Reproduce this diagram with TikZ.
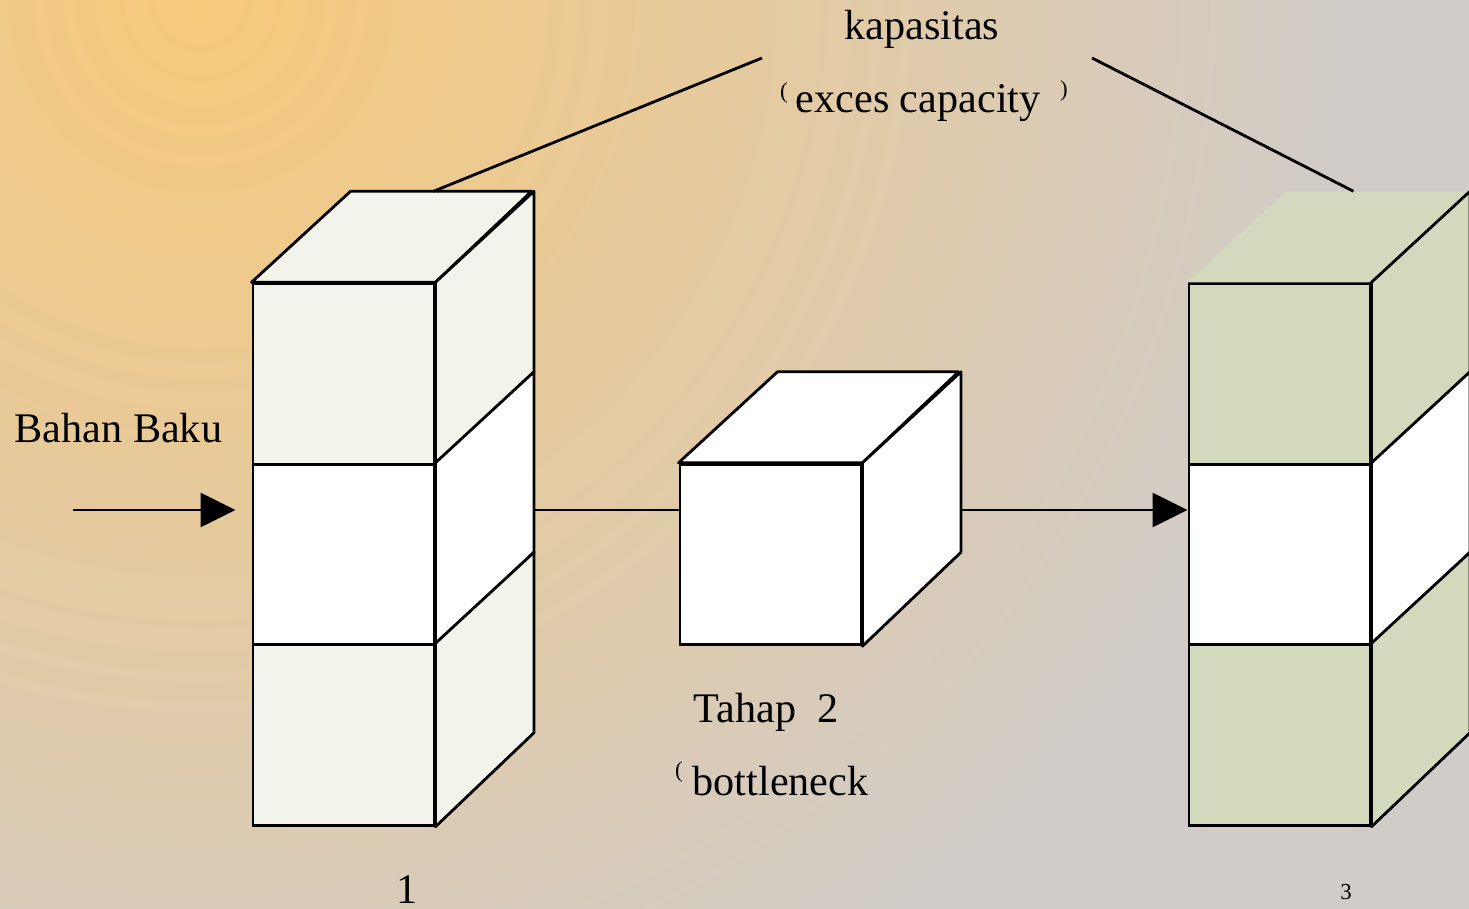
\documentclass[tikz,border=0pt]{standalone}
\usepackage{fontspec}
\setmainfont{Liberation Serif}
\usetikzlibrary{arrows.meta,calc,positioning}
\definecolor{cream}{HTML}{F2F3EA}
\definecolor{sage}{HTML}{D3D9BC}
\definecolor{bgwarm}{HTML}{F7C97A}
\definecolor{bggrey}{HTML}{D1CCC8}
\tikzset{>=latex}
\tikzstyle{cell} = [draw,line width=0.8pt,minimum width=1.81cm,minimum height=1.805cm,inner sep=0pt]
\tikzstyle{face} = [draw,line width=0.8pt,line join=round]
\tikzstyle{flow} = [line width=0.8pt,-{Triangle[length=3.5mm,width=3.4mm]}]
\tikzstyle{lbl} = [inner sep=0pt,font=\fontsize{12}{14}\selectfont]
\tikzstyle{paren} = [inner sep=0pt,font=\fontsize{6.5}{7}\selectfont]

\begin{document}
\begin{tikzpicture}[x=0.01cm,y=-0.01cm]
  \useasboundingbox (0,0) rectangle (1469,909);
  \begin{scope}
    \clip (0,0) rectangle (1469,909);
    \fill [bggrey] (0,0) rectangle (1469,909);
    \shade [inner color=bgwarm,outer color=bggrey] (200,0) circle (11.5cm);
  \end{scope}

  % tahap 1
  \node [cell,fill=cream] (a1) at (343.5,374) {};
  \node [cell,fill=white] (a2) at (343.5,554.5) {};
  \node [cell,fill=cream] (a3) at (343.5,735) {};
  \draw [face,fill=cream] (a1.north west) -- ++(99,-91) -- ++(181,0) -- (a1.north east) -- cycle;
  \foreach \c/\f in {a1/cream,a2/white,a3/cream}
    \draw [face,fill=\f] (\c.north east) -- ++(98.5,-91) -- ++(0,180.5) -- (\c.south east) -- cycle;

  % tahap 2
  \node [cell,fill=white] (b) at (770.5,554.5) {};
  \draw [face,fill=white] (b.north west) -- ++(99,-91) -- ++(181,0) -- (b.north east) -- cycle;
  \draw [face,fill=white] (b.north east) -- ++(98.5,-91) -- ++(0,180.5) -- (b.south east) -- cycle;

  % tahap 3
  \node [cell,fill=sage] (c1) at (1279.5,374) {};
  \node [cell,fill=white] (c2) at (1279.5,554.5) {};
  \node [cell,fill=sage] (c3) at (1279.5,735) {};
  \fill [sage] (c1.north west) -- ++(99,-91) -- ++(181,0) -- (c1.north east) -- cycle;
  \foreach \c/\f in {c1/sage,c2/white,c3/sage}
    \draw [face,fill=\f] (\c.north east) -- ++(98.5,-91) -- ++(0,180.5) -- (\c.south east) -- cycle;

  % alur
  \coordinate (src) at (73,510);
  \coordinate (a2r) at ($(a2.east)+(98.5,-44.5)$);
  \coordinate (br) at ($(b.east)+(98.5,-44.5)$);
  \draw [flow] (src) -- ($(src -| a2.west)+(-16,0)$);
  \draw [line width=0.8pt] (a2r) -- (a2r -| b.west);
  \draw [flow] (br) -- (br -| c2.west);

  % label
  \node [lbl,anchor=base west] (inlbl) at (14,442) {Bahan Baku};
  \node [lbl,anchor=base] (kap) at (922,39) {kapasitas};
  \node [lbl,anchor=base west] (exc) at (795,113) {exces capacity};
  \node [paren] (excl) at (784,93) {(};
  \node [paren] (excr) at (1064,91) {)};
  \node [lbl,anchor=base west] (t2) at (693,722) {Tahap\ \ 2};
  \node [paren] (botl) at (679,772) {(};
  \node [lbl,anchor=base west] (bot) at (692,795) {bottleneck};
  \node [lbl,anchor=base] (n1) at (407,903) {1};
  \node [paren,anchor=base] (n3) at (1346,899) {3};

  \coordinate (capA) at ($(a1.north west)+(182,-91)$);
  \coordinate (capL) at (762,58);
  \coordinate (capR) at (1092,58);
  \coordinate (capC) at ($(c1.north west)+(166,-91)$);
  \draw [line width=0.8pt] (capA) -- (capL);
  \draw [line width=0.8pt] (capR) -- (capC);
\end{tikzpicture}
\end{document}
